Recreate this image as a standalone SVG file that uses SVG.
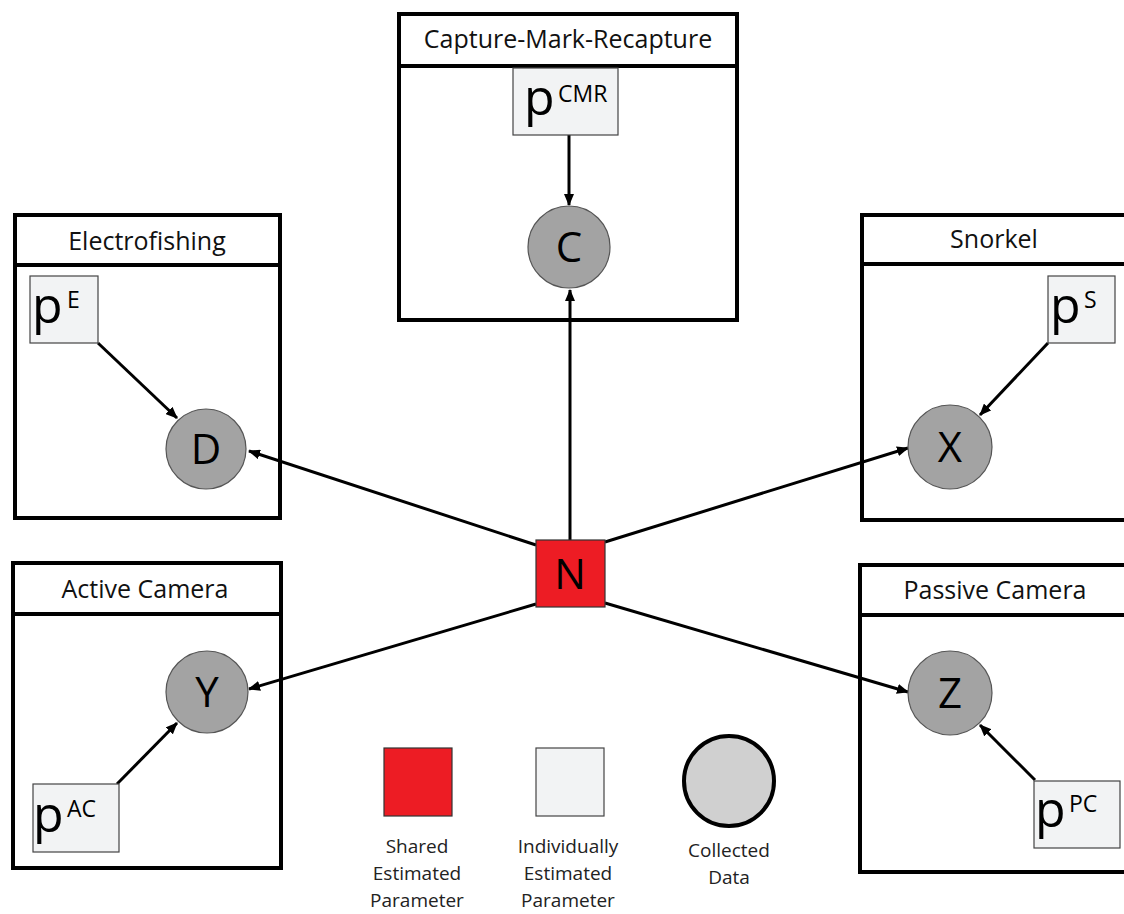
<svg xmlns="http://www.w3.org/2000/svg" width="1124" height="914" viewBox="0 0 1124 914">
<style>
.plate{fill:#fff;stroke:#000;stroke-width:4}
.div{stroke:#000;stroke-width:4}
.hdr{font-family:"Open Sans",sans-serif;font-size:25px;fill:#111;text-anchor:middle}
.param{fill:#f2f3f4;stroke:#444;stroke-width:1.2}
.data{fill:#a3a3a3;stroke:#555;stroke-width:1.2}
.big{font-family:"Open Sans",sans-serif;font-size:42px;fill:#000;text-anchor:middle}
.p{font-family:"Open Sans",sans-serif;font-size:50px;fill:#000}
.sup{font-family:"Open Sans",sans-serif;font-size:23px;fill:#000}
.leg{font-family:"Open Sans",sans-serif;font-size:19px;fill:#222;text-anchor:middle}
.edge{stroke:#000;stroke-width:3;fill:none;marker-end:url(#ah)}
</style>
<defs>
<marker id="ah" markerUnits="userSpaceOnUse" markerWidth="12" markerHeight="10" refX="11" refY="5" orient="auto">
<path d="M0,0 L12,5 L0,10 z" fill="#000"/>
</marker>
</defs>
<rect width="1124" height="914" fill="#fff"/>

<g id="plate-cmr">
<rect class="plate" x="399" y="14" width="338" height="306"/>
<line class="div" x1="399" y1="66" x2="737" y2="66"/>
<text class="hdr" x="568" y="48">Capture-Mark-Recapture</text>
</g>
<g id="plate-electro">
<rect class="plate" x="15" y="215" width="265" height="303"/>
<line class="div" x1="15" y1="265" x2="280" y2="265"/>
<text class="hdr" x="147" y="250">Electrofishing</text>
</g>
<g id="plate-snorkel">
<rect class="plate" x="862" y="215" width="272" height="305"/>
<line class="div" x1="862" y1="264" x2="1134" y2="264"/>
<text class="hdr" x="994" y="248">Snorkel</text>
</g>
<g id="plate-active">
<rect class="plate" x="13" y="563" width="268" height="305"/>
<line class="div" x1="13" y1="614" x2="281" y2="614"/>
<text class="hdr" x="145" y="598">Active Camera</text>
</g>
<g id="plate-passive">
<rect class="plate" x="860" y="565" width="274" height="307"/>
<line class="div" x1="860" y1="615" x2="1134" y2="615"/>
<text class="hdr" x="995" y="599">Passive Camera</text>
</g>

<g id="connectors">
<line class="edge" x1="570" y1="540" x2="570" y2="290"/>
<line class="edge" x1="536" y1="545" x2="249" y2="451"/>
<line class="edge" x1="605" y1="542" x2="908" y2="448"/>
<line class="edge" x1="536" y1="604" x2="249" y2="689"/>
<line class="edge" x1="605" y1="603" x2="908" y2="692"/>
<line class="edge" x1="569" y1="135" x2="569" y2="205"/>
<line class="edge" x1="98" y1="343" x2="177" y2="418"/>
<line class="edge" x1="1048" y1="343" x2="980" y2="415"/>
<line class="edge" x1="117" y1="784" x2="177" y2="723"/>
<line class="edge" x1="1035" y1="780" x2="980" y2="725"/>
</g>

<g id="node-pCMR">
<rect class="param" x="513" y="68" width="105" height="67"/>
<text class="p" x="524" y="115">p</text><text class="sup" x="558" y="102" font-size="18">CMR</text>
</g>
<g id="node-C">
<circle class="data" cx="569" cy="247" r="41"/>
<text class="big" x="569" y="262">C</text>
</g>
<g id="node-pE">
<rect class="param" x="30" y="276" width="68" height="67"/>
<text class="p" x="32" y="323">p</text><text class="sup" x="67" y="308">E</text>
</g>
<g id="node-D">
<circle class="data" cx="206" cy="449" r="40"/>
<text class="big" x="206" y="464">D</text>
</g>
<g id="node-pS">
<rect class="param" x="1048" y="276" width="67" height="67"/>
<text class="p" x="1050" y="323">p</text><text class="sup" x="1084" y="308">S</text>
</g>
<g id="node-X">
<circle class="data" cx="950" cy="447" r="42"/>
<text class="big" x="950" y="462">X</text>
</g>
<g id="node-N">
<rect x="536" y="540" width="69" height="67" fill="#ed1c24" stroke="#333" stroke-width="1.2"/>
<text class="big" x="570" y="589">N</text>
</g>
<g id="node-Y">
<circle class="data" cx="207" cy="692" r="41"/>
<text class="big" x="207" y="707">Y</text>
</g>
<g id="node-pAC">
<rect class="param" x="33" y="784" width="86" height="68"/>
<text class="p" x="33" y="832">p</text><text class="sup" x="67" y="817">AC</text>
</g>
<g id="node-Z">
<circle class="data" cx="950" cy="693" r="42"/>
<text class="big" x="950" y="708">Z</text>
</g>
<g id="node-pPC">
<rect class="param" x="1034" y="781" width="86" height="67"/>
<text class="p" x="1035" y="827">p</text><text class="sup" x="1069" y="812">PC</text>
</g>

<g id="legend-shared">
<rect x="384" y="748" width="68" height="68" fill="#ed1c24" stroke="#333" stroke-width="1.2"/>
<text class="leg" x="417" y="853">Shared</text>
<text class="leg" x="417" y="880">Estimated</text>
<text class="leg" x="417" y="907">Parameter</text>
</g>
<g id="legend-individual">
<rect class="param" x="536" y="748" width="68" height="68"/>
<text class="leg" x="568" y="853">Individually</text>
<text class="leg" x="568" y="880">Estimated</text>
<text class="leg" x="568" y="907">Parameter</text>
</g>
<g id="legend-data">
<circle cx="729" cy="781" r="45" fill="#d0d0d0" stroke="#000" stroke-width="4"/>
<text class="leg" x="729" y="857">Collected</text>
<text class="leg" x="729" y="884">Data</text>
</g>
</svg>
